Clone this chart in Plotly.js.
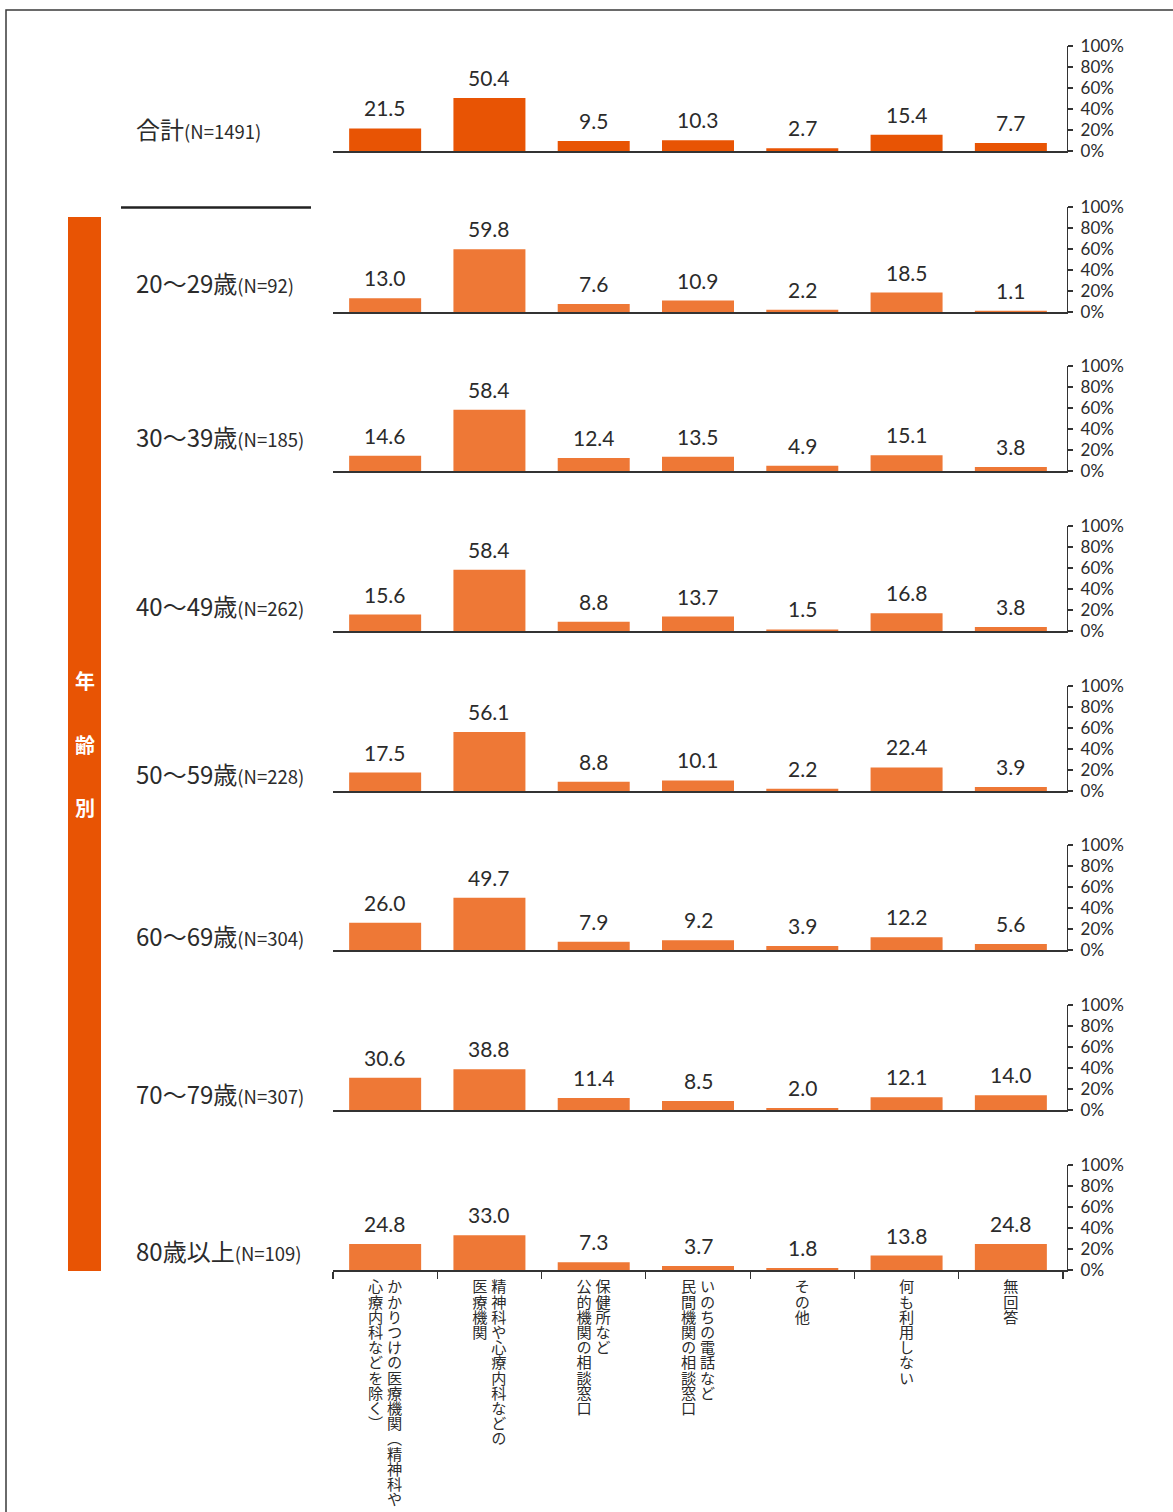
<!DOCTYPE html>
<html>
<head>
<meta charset="utf-8">
<script src="https://cdn.plot.ly/plotly-3.0.1.min.js"></script>
<style>html,body{margin:0;padding:0;background:#fff;}</style>
</head>
<body>
<div id="chart" style="width:1173px;height:1512px;"></div>
<script>
// ---- data ----
const categories = [
  "かかりつけの医療機関（精神科や心療内科などを除く）",
  "精神科や心療内科などの医療機関",
  "保健所など公的機関の相談窓口",
  "いのちの電話など民間機関の相談窓口",
  "その他",
  "何も利用しない",
  "無回答"
];
// vertical label columns (right to left)
const categoryColumns = [
  ["かかりつけの医療機関（精神科や", "心療内科などを除く）"],
  ["精神科や心療内科などの", "医療機関"],
  ["保健所など", "公的機関の相談窓口"],
  ["いのちの電話など", "民間機関の相談窓口"],
  ["その他"],
  ["何も利用しない"],
  ["無回答"]
];
const groupNames = ["合計", "20〜29歳", "30〜39歳", "40〜49歳", "50〜59歳", "60〜69歳", "70〜79歳", "80歳以上"];
const groupN = ["(N=1491)", "(N=92)", "(N=185)", "(N=262)", "(N=228)", "(N=304)", "(N=307)", "(N=109)"];
const valuesTotal = [21.5, 50.4, 9.5, 10.3, 2.7, 15.4, 7.7];
const values20s = [13.0, 59.8, 7.6, 10.9, 2.2, 18.5, 1.1];
const values30s = [14.6, 58.4, 12.4, 13.5, 4.9, 15.1, 3.8];
const values40s = [15.6, 58.4, 8.8, 13.7, 1.5, 16.8, 3.8];
const values50s = [17.5, 56.1, 8.8, 10.1, 2.2, 22.4, 3.9];
const values60s = [26.0, 49.7, 7.9, 9.2, 3.9, 12.2, 5.6];
const values70s = [30.6, 38.8, 11.4, 8.5, 2.0, 12.1, 14.0];
const values80s = [24.8, 33.0, 7.3, 3.7, 1.8, 13.8, 24.8];
const tickVals = [0, 20, 40, 60, 80, 100];
const tickText = ["0%", "20%", "40%", "60%", "80%", "100%"];
const sideLabel = ["年", "齢", "別"];

const allValues = [valuesTotal, values20s, values30s, values40s, values50s, values60s, values70s, values80s];

// ---- layout helpers ----
const W = 1173, H = 1512;
const px = x => x / W;
const py = y => 1 - y / H;
const baselines = [151, 312, 471, 631, 791, 950, 1110, 1270];
const labelY = [128, 282, 437, 605, 773, 935, 1093, 1250];
const panelH = 105;
const xLeft = 333, xRight = 1067;
const catW = (1063 - 333) / 7;
const xRangeMax = -0.5 + (xRight - xLeft) / catW;
const txt = "#2b2b2b";
const font = '"Noto Sans CJK JP", "Noto Sans", sans-serif';
const numFont = 'Lato, "Noto Sans CJK JP", sans-serif';
const colorTotal = "#E85404";
const colorAge = "#EE7836";

const idx = categories.map((c, i) => i);
const traces = [];
const layout = {
  width: W, height: H,
  margin: {l: 0, r: 0, t: 0, b: 0},
  paper_bgcolor: "#fff", plot_bgcolor: "rgba(0,0,0,0)",
  showlegend: false,
  font: {family: font, color: txt},
  annotations: [],
  shapes: []
};

allValues.forEach((vals, k) => {
  const n = k + 1;
  const xa = n === 1 ? "x" : "x" + n;
  const ya = n === 1 ? "y" : "y" + n;
  traces.push({
    type: "bar", x: idx, y: vals, xaxis: xa, yaxis: ya,
    marker: {color: k === 0 ? colorTotal : colorAge, line: {width: 0}},
    width: 72 / catW, hoverinfo: "skip"
  });
  const b = baselines[k];
  const isBottom = k === allValues.length - 1;
  layout["xaxis" + (n === 1 ? "" : n)] = {
    domain: [px(xLeft), px(xRight)],
    range: [-0.5, xRangeMax],
    anchor: ya,
    showgrid: false, zeroline: false,
    showline: true, linecolor: "#333", linewidth: 1.5,
    tickmode: "array",
    tickvals: isBottom ? [-0.5, 0.5, 1.5, 2.5, 3.5, 4.5, 5.5, 6.5] : [],
    ticktext: isBottom ? ["", "", "", "", "", "", "", ""] : [],
    ticks: isBottom ? "outside" : "", ticklen: 7, tickcolor: "#333", tickwidth: 1.2,
    fixedrange: true
  };
  layout["yaxis" + (n === 1 ? "" : n)] = {
    domain: [py(b), py(b - panelH)],
    range: [0, 100],
    anchor: xa, side: "right",
    tickmode: "array", tickvals: tickVals, ticktext: tickText,
    ticks: "outside", ticklen: 5, tickcolor: "#333", tickwidth: 1.2,
    ticklabelstandoff: 4,
    showline: true, linecolor: "#333", linewidth: 1.2,
    showgrid: false, zeroline: false,
    tickfont: {size: 17, color: txt, family: numFont},
    fixedrange: true
  };
  // value labels
  vals.forEach((v, i) => {
    layout.annotations.push({
      x: i, y: v, xref: xa, yref: ya, text: v.toFixed(1),
      showarrow: false, yanchor: "bottom", yshift: 6,
      font: {size: 21, color: txt, family: numFont}
    });
  });
  // group label
  layout.annotations.push({
    x: px(134), y: py(labelY[k]), xref: "paper", yref: "paper",
    xanchor: "left", yanchor: "middle", showarrow: false,
    text: groupNames[k] + '<span style="font-size:18.5px">' + groupN[k] + '</span>',
    font: {size: 24, color: txt, family: font}
  });
});

// vertical category labels: one annotation per column, set in tategaki after render
const vFont = 15.2, colGap = 19, startY = 1279;
const verticalInfo = [];
categoryColumns.forEach((cols, i) => {
  const nc = cols.length;
  cols.forEach((col, c) => {
    const off = ((nc - 1) / 2 - c) * colGap;
    verticalInfo.push({ai: layout.annotations.length, cat: i, off: off});
    layout.annotations.push({
      x: i, xref: "x8", xshift: off,
      y: py(startY), yref: "paper",
      text: col, showarrow: false,
      xanchor: "center", yanchor: "top", align: "center",
      font: {size: vFont, color: txt, family: font}
    });
  });
});

// side band text
const sideY = [680, 744, 807];
sideLabel.forEach((ch, i) => {
  layout.annotations.push({
    x: px(84.5), y: py(sideY[i]), xref: "paper", yref: "paper",
    xanchor: "center", yanchor: "middle",
    text: "<b>" + ch + "</b>", showarrow: false,
    font: {size: 20, color: "#fff", family: font}
  });
});

// shapes: frame, band, separator
layout.shapes.push({
  type: "rect", xref: "paper", yref: "paper",
  x0: px(6), x1: 1.02, y0: -0.02, y1: py(10),
  line: {color: "#3a3a3a", width: 1.5}, fillcolor: "rgba(0,0,0,0)", layer: "below"
});
layout.shapes.push({
  type: "rect", xref: "paper", yref: "paper",
  x0: px(68), x1: px(101), y0: py(1271), y1: py(217),
  line: {width: 0}, fillcolor: colorTotal, layer: "below"
});
layout.shapes.push({
  type: "line", xref: "paper", yref: "paper",
  x0: px(121), x1: px(311), y0: py(207.5), y1: py(207.5),
  line: {color: "#222", width: 2.5}
});

Plotly.newPlot("chart", traces, layout, {displayModeBar: false, staticPlot: true}).then(gd => {
  // set the category labels in vertical writing (tategaki), as in the reference
  const fl = gd._fullLayout;
  const xa8 = fl.xaxis8;
  const root = gd.getBoundingClientRect();
  verticalInfo.forEach(info => {
    const g = gd.querySelector('.annotation[data-index="' + info.ai + '"]');
    if (!g) return;
    const t = g.querySelector('text.annotation-text');
    if (!t) return;
    const cx = xa8._offset + xa8.l2p(info.cat) + info.off;
    const ctm = t.getScreenCTM();
    const svg = t.ownerSVGElement;
    const p = svg.createSVGPoint();
    p.x = root.left + cx; p.y = root.top + startY;
    const loc = p.matrixTransform(ctm.inverse());
    t.style.writingMode = "vertical-rl";
    t.setAttribute("text-anchor", "start");
    t.setAttribute("x", loc.x);
    t.setAttribute("y", loc.y);
    t.querySelectorAll("tspan").forEach(s => { s.removeAttribute("x"); s.removeAttribute("y"); s.removeAttribute("dy"); });
    const bg = g.querySelector("rect.bg");
    if (bg) bg.setAttribute("width", 0);
  });
});
</script>
</body>
</html>
